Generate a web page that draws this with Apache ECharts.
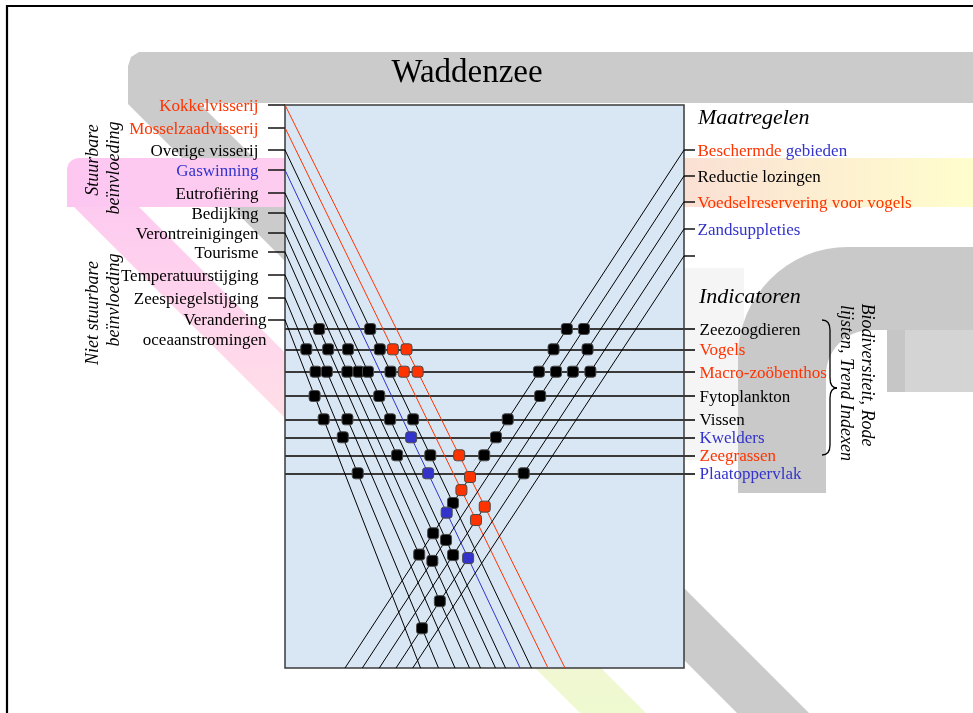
<!DOCTYPE html>
<html><head><meta charset="utf-8">
<script src="https://cdn.jsdelivr.net/npm/echarts@6/dist/echarts.min.js"></script>
<style>html,body{margin:0;padding:0;background:#fff}#c{width:973px;height:713px}</style>
</head><body><div id="c"></div>
<script>
// ---------------- data ----------------
const chartTitle = 'Waddenzee';
// pressures (left) : start height on left edge, end position on bottom edge
const leftNames = ['Kokkelvisserij','Mosselzaadvisserij','Overige visserij','Gaswinning','Eutrofiëring','Bedijking','Verontreinigingen','Tourisme','Temperatuurstijging','Zeespiegelstijging','Verandering\noceaanstromingen'];
const leftKind = ['r','r','k','b','k','k','k','k','k','k','k'];
const leftStartY = [0,22.7,45,65,88,108,128,147,170,193,215];
const leftEndX = [280,263,246.5,235,220.5,210.5,195.5,184.5,170,153.5,135.5];
// measures (right)
const rightNames = ['Beschermde gebieden','Reductie lozingen','Voedselreservering voor vogels','Zandsuppleties',''];
const rightKind = ['rb','k','r','b','k'];
const rightStartY = [45,71,96.7,124,151];
const rightEndX = [60,77.3,94.3,111,127.7];
// indicators (rows)
const indicatorNames = ['Zeezoogdieren','Vogels','Macro-zoöbenthos','Fytoplankton','Vissen','Kwelders','Zeegrassen','Plaatoppervlak'];
const indicatorKind = ['k','r','r','k','k','b','r','b'];
const indicatorY = [224,244.3,266.7,291,314.3,332.3,350.3,368.3];
// marks: [indicator row, pressure line]
const rowLeftMarks = [[0,7],[0,2],[1,9],[1,7],[1,5],[1,2],[1,1],[1,0],[2,9],[2,8],[2,6],[2,5],[2,4],[2,2],[2,1],[2,0],[3,10],[3,4],[4,10],[4,8],[4,4],[4,2],[5,9],[5,3],[6,5],[6,2],[6,0],[7,9],[7,3]];
// marks: [indicator row, measure line]
const rowRightMarks = [[0,0],[0,1],[1,0],[1,2],[2,0],[2,1],[2,2],[2,3],[3,1],[4,0],[5,0],[6,0],[7,3]];
// marks: [pressure line, measure line]
const crossMarks = [[0,0],[1,0],[2,0],[0,2],[3,0],[1,2],[5,0],[4,1],[7,0],[6,1],[4,2],[3,3],[7,3],[9,3]];
const sideTitles = ['Maatregelen','Indicatoren'];
const groupLeft1 = ['Stuurbare','beïnvloeding'];
const groupLeft2 = ['Niet stuurbare','beïnvloeding'];
const groupRight = ['Biodiversiteit, Rode','lijsten, Trend Indexen'];

// ---------------- chart ----------------
const W = 399, H = 563;
const RED = '#ff3300', BLUE = '#3333cc', BLACK = '#000000';
const FONT = "'Liberation Serif','Times New Roman',serif";
const colorOf = k => k === 'r' ? RED : (k === 'b' ? BLUE : BLACK);
const slopeL = i => leftEndX[i] / (H - leftStartY[i]);
const slopeR = j => (W - rightEndX[j]) / (H - rightStartY[j]);
const Lx = (i, y) => slopeL(i) * (y - leftStartY[i]);
const Rx = (j, y) => W - slopeR(j) * (y - rightStartY[j]);
const cross = (i, j) => {
  const a = slopeL(i), b = slopeR(j);
  const y = (W + a * leftStartY[i] + b * rightStartY[j]) / (a + b);
  return [Lx(i, y), y];
};

const chart = echarts.init(document.getElementById('c'));

const markData = [];
rowLeftMarks.forEach(([r, i]) => markData.push({value: [Lx(i, indicatorY[r]), indicatorY[r]], itemStyle: {color: colorOf(leftKind[i])}}));
rowRightMarks.forEach(([r, j]) => markData.push({value: [Rx(j, indicatorY[r]), indicatorY[r]], itemStyle: {color: BLACK}}));
crossMarks.forEach(([i, j]) => markData.push({value: cross(i, j), itemStyle: {color: colorOf(leftKind[i])}}));

const linesSeries = (data, z, width) => ({
  type: 'lines', coordinateSystem: 'cartesian2d', polyline: false, clip: false, silent: true, z: z,
  lineStyle: {width: width, opacity: 1, curveness: 0},
  data: data
});

const rowLines = indicatorY.map(y => ({coords: [[0, y], [410, y]], lineStyle: {color: '#3a3a3a'}}));
const leftTicks = leftStartY.map(y => ({coords: [[-17, y], [0, y]], lineStyle: {color: '#111'}}));
const rightTicks = rightStartY.map(y => ({coords: [[W, y], [W + 11, y]], lineStyle: {color: '#111'}}));
const leftLines = leftStartY.map((s, i) => ({coords: [[0, s], [leftEndX[i], H]], lineStyle: {color: colorOf(leftKind[i])}}));
const rightLines = rightStartY.map((t, j) => ({coords: [[W, t], [rightEndX[j], H]], lineStyle: {color: BLACK}}));

const leftLabelData = leftNames.map((n, i) => {
  const multi = n.indexOf('\n') >= 0;
  return {value: [-17, leftStartY[i]], name: n,
    label: Object.assign({color: colorOf(leftKind[i])}, multi ? {offset: [8, 11], lineHeight: 20} : {})};
});
const rightLabelData = rightNames.map((n, j) => {
  let fmt = n;
  if (rightKind[j].length === 2) {
    const sp = n.indexOf(' ');
    fmt = '{a|' + n.slice(0, sp) + '} {b|' + n.slice(sp + 1) + '}';
  }
  return {value: [W + 11, rightStartY[j]], name: fmt, label: {color: colorOf(rightKind[j][0])}};
});
const indLabelData = indicatorNames.map((n, r) => ({value: [W + 11, indicatorY[r]], name: n, label: {color: colorOf(indicatorKind[r])}}));

const labelSeries = (data, pos, dist) => ({
  type: 'scatter', symbolSize: 1, silent: true, z: 20, clip: false,
  itemStyle: {color: 'rgba(0,0,0,0)', opacity: 1},
  label: {show: true, position: pos, distance: dist, formatter: p => p.name, offset: [0, 1.5],
    fontFamily: FONT, fontSize: 17, color: BLACK,
    rich: {a: {fontFamily: FONT, fontSize: 17, color: RED}, b: {fontFamily: FONT, fontSize: 17, color: BLUE}}},
  data: data
});

const gray = '#cbcbcb';
const braceStyle = {stroke: '#000', lineWidth: 1.3, fill: 'none'};
const graphics = [
  // slide frame
  {type: 'rect', shape: {x: 7, y: 6, width: 1000, height: 1000}, style: {fill: '#fff', stroke: '#000', lineWidth: 2.2}, z: -30},
  // light box behind indicators
  {type: 'rect', shape: {x: 684, y: 268, width: 60, height: 192}, style: {fill: '#f5f5f5'}, z: -25},
  // big G
  {type: 'rect', shape: {x: 738, y: 247, width: 260, height: 250, r: [110, 0, 0, 0]}, style: {fill: '#c9c9c9'}, z: -24},
  {type: 'rect', shape: {x: 826, y: 330, width: 170, height: 180, r: [45, 0, 0, 0]}, style: {fill: '#fff'}, z: -23},
  {type: 'rect', shape: {x: 887, y: 330, width: 90, height: 62}, style: {fill: '#d4d4d4'}, z: -22},
  {type: 'rect', shape: {x: 887, y: 330, width: 18, height: 62}, style: {fill: '#c6c6c6'}, z: -22},
  {type: 'rect', shape: {x: 700, y: 493, width: 280, height: 230}, style: {fill: '#fff'}, z: -21},
  // grey band (title bar + diagonal)
  {type: 'polygon', shape: {points: [[128, 66], [131, 57], [139, 52], [980, 52], [980, 103], [199, 103], [809, 713], [737, 713], [128, 104]]},
    style: {fill: gray}, z: -15},
  // coloured band: diagonal part
  {type: 'polygon', shape: {points: [[67, 170], [71, 161], [80, 158], [150, 158], [139, 207], [646, 713], [580, 713], [67, 200]]},
    style: {fill: new echarts.graphic.LinearGradient(0, 0, 0, 1, [
      {offset: 0, color: '#fdc6f2'}, {offset: 0.4, color: '#ffdbe9'}, {offset: 0.75, color: '#f7efd6'}, {offset: 1, color: '#eefad0'}])}, z: -14},
  // coloured band: horizontal part
  {type: 'rect', shape: {x: 67, y: 158, width: 920, height: 49, r: [12, 0, 0, 0]},
    style: {fill: new echarts.graphic.LinearGradient(0, 0, 1, 0, [
      {offset: 0, color: '#fcc6f1'}, {offset: 0.25, color: '#fdcdef'}, {offset: 0.68, color: '#fbe1d4'}, {offset: 1, color: '#ffffcc'}])}, z: -13},
  // title
  {type: 'text', x: 467, y: 73, style: {text: chartTitle, font: "33px " + FONT, fill: '#000', textAlign: 'center', textVerticalAlign: 'middle'}, z: 50},
  {type: 'text', x: 698, y: 118, style: {text: sideTitles[0], font: "italic 22px " + FONT, fill: '#000', textAlign: 'left', textVerticalAlign: 'middle'}, z: 50},
  {type: 'text', x: 699, y: 297, style: {text: sideTitles[1], font: "italic 22px " + FONT, fill: '#000', textAlign: 'left', textVerticalAlign: 'middle'}, z: 50},
  // rotated group captions
  {type: 'text', x: 93, y: 160, rotation: Math.PI / 2, style: {text: groupLeft1[0], font: "italic 18px " + FONT, fill: '#000', textAlign: 'center', textVerticalAlign: 'middle'}, z: 50},
  {type: 'text', x: 114, y: 168, rotation: Math.PI / 2, style: {text: groupLeft1[1], font: "italic 18px " + FONT, fill: '#000', textAlign: 'center', textVerticalAlign: 'middle'}, z: 50},
  {type: 'text', x: 93, y: 313, rotation: Math.PI / 2, style: {text: groupLeft2[0], font: "italic 18px " + FONT, fill: '#000', textAlign: 'center', textVerticalAlign: 'middle'}, z: 50},
  {type: 'text', x: 114, y: 300, rotation: Math.PI / 2, style: {text: groupLeft2[1], font: "italic 18px " + FONT, fill: '#000', textAlign: 'center', textVerticalAlign: 'middle'}, z: 50},
  {type: 'text', x: 867, y: 375, rotation: -Math.PI / 2, style: {text: groupRight[0], font: "italic 18px " + FONT, fill: '#000', textAlign: 'center', textVerticalAlign: 'middle'}, z: 50},
  {type: 'text', x: 846, y: 383, rotation: -Math.PI / 2, style: {text: groupRight[1], font: "italic 18px " + FONT, fill: '#000', textAlign: 'center', textVerticalAlign: 'middle'}, z: 50},
  // brace
  {type: 'bezierCurve', shape: {x1: 822, y1: 320, cpx1: 830, cpy1: 320, x2: 830, y2: 330}, style: braceStyle, z: 50},
  {type: 'line', shape: {x1: 830, y1: 330, x2: 830, y2: 378}, style: braceStyle, z: 50},
  {type: 'bezierCurve', shape: {x1: 830, y1: 378, cpx1: 830, cpy1: 388, x2: 837, y2: 388}, style: braceStyle, z: 50},
  {type: 'bezierCurve', shape: {x1: 837, y1: 388, cpx1: 830, cpy1: 388, x2: 830, y2: 398}, style: braceStyle, z: 50},
  {type: 'line', shape: {x1: 830, y1: 398, x2: 830, y2: 445}, style: braceStyle, z: 50},
  {type: 'bezierCurve', shape: {x1: 830, y1: 445, cpx1: 830, cpy1: 455, x2: 822, y2: 455}, style: braceStyle, z: 50}
];

chart.setOption({
  animation: false,
  backgroundColor: '#ffffff',
  grid: {left: 285, top: 105, width: W, height: H, show: true, backgroundColor: '#d9e7f5', borderColor: '#3a3a3a', borderWidth: 1.5, z: 0},
  xAxis: {type: 'value', min: 0, max: W, show: false},
  yAxis: {type: 'value', min: 0, max: H, inverse: true, show: false},
  graphic: {elements: graphics},
  series: [
    linesSeries(rowLines, 3, 1.8),
    linesSeries(leftTicks, 3, 1.5),
    linesSeries(rightTicks, 3, 1.5),
    linesSeries(leftLines, 4, 1),
    linesSeries(rightLines, 4, 1),
    {type: 'scatter', symbol: 'roundRect', symbolSize: 11, z: 10, silent: true,
      itemStyle: {borderColor: '#4a4a4a', borderWidth: 1, opacity: 1}, data: markData},
    labelSeries(leftLabelData, 'left', 9),
    labelSeries(rightLabelData, 'right', 2),
    labelSeries(indLabelData, 'right', 4)
  ]
});
</script></body></html>
